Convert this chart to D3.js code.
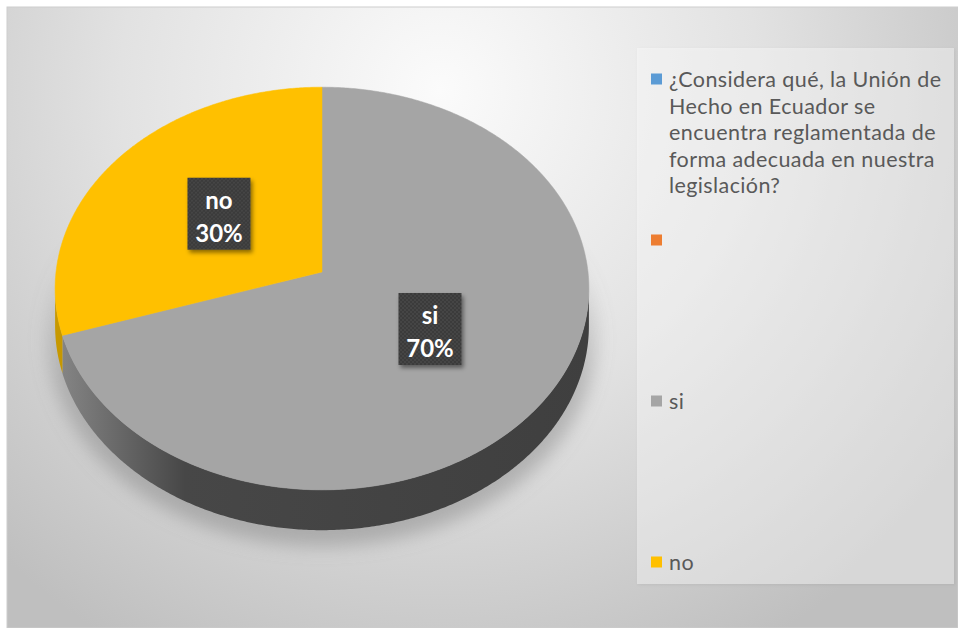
<!DOCTYPE html>
<html><head><meta charset="utf-8">
<script src="https://cdn.jsdelivr.net/npm/d3@7"></script>
<style>html,body{margin:0;padding:0;background:#fff;}svg{display:block}</style>
</head><body>
<svg id="chart" width="958" height="628"></svg>
<script>
// Survey answers
const categories = ["si", "no"];
const values = [70, 30];
const sliceColors = ["#a5a5a5", "#ffc000"];
const sideColors = [["#8a8a8a", "#474747", "#3f3f3f"], ["#c99a00", "#a67c00", "#a67c00"]];

// Legend entries (the first one is the question; the second has no label)
const legendLabels = [
  "¿Considera qué, la Unión de\nHecho en Ecuador se\nencuentra reglamentada de\nforma adecuada en nuestra\nlegislación?",
  "",
  "si",
  "no"
];
const legendColors = ["#5b9bd5", "#ed7d31", "#a5a5a5", "#ffc000"];

const W = 958, H = 628;
const svg = d3.select("#chart");
const defs = svg.append("defs");

// ---- background ----
const bg = defs.append("radialGradient").attr("id", "bgGrad")
  .attr("gradientUnits", "userSpaceOnUse").attr("cx", 440).attr("cy", 90).attr("r", 640);
bg.append("stop").attr("offset", 0).attr("stop-color", "#fbfbfb");
bg.append("stop").attr("offset", 0.5).attr("stop-color", "#e2e2e2");
bg.append("stop").attr("offset", 1).attr("stop-color", "#bfbfbf");
svg.append("rect").attr("x", 7).attr("y", 7).attr("width", W - 7).attr("height", H - 7)
  .attr("fill", "url(#bgGrad)").attr("stroke", "#cdcdcd").attr("stroke-width", 1);

// ---- 3D pie geometry (perspective-tilted disk) ----
const cx = 322, cy = 272, RX = 266, RY = 200, persp = 0.082, depth = 37;
function proj(theta, r, drop) {
  const u = r * Math.sin(theta), v = -r * Math.cos(theta);
  const k = 1 / (1 - persp * v);
  return [cx + RX * u * k, cy + RY * v * k + drop * k];
}
const pie = d3.pie().sort(null).value(d => d)(values);
const visLo = Math.acos(-persp), visHi = 2 * Math.PI - Math.acos(-persp);
const line = d3.line();

function arcPts(a0, a1, r, drop) {
  const n = Math.max(2, Math.ceil(Math.abs(a1 - a0) / (Math.PI / 360)));
  return d3.range(n + 1).map(i => proj(a0 + (a1 - a0) * i / n, r, drop));
}

// soft shadow below the disk
const shGrad = defs.append("linearGradient").attr("id", "shGrad")
  .attr("gradientUnits", "userSpaceOnUse").attr("x1", 0).attr("y1", 240).attr("x2", 0).attr("y2", 560);
shGrad.append("stop").attr("offset", 0).attr("stop-color", "#808080").attr("stop-opacity", 0);
shGrad.append("stop").attr("offset", 0.45).attr("stop-color", "#808080").attr("stop-opacity", 0.45);
shGrad.append("stop").attr("offset", 1).attr("stop-color", "#8a8a8a").attr("stop-opacity", 0.55);
defs.append("filter").attr("id", "shBlur").attr("x", "-20%").attr("y", "-20%").attr("width", "140%").attr("height", "140%")
  .append("feGaussianBlur").attr("stdDeviation", 9);
svg.append("path")
  .attr("d", line(arcPts(0, 2 * Math.PI, 1.03, depth + 8)) + "Z")
  .attr("fill", "url(#shGrad)").attr("filter", "url(#shBlur)");

// sides
pie.forEach((s, i) => {
  const a0 = Math.max(s.startAngle, visLo), a1 = Math.min(s.endAngle, visHi);
  if (a1 <= a0) return;
  const g = defs.append("linearGradient").attr("id", "side" + i)
    .attr("gradientUnits", "userSpaceOnUse").attr("x1", 50).attr("y1", 0).attr("x2", 590).attr("y2", 0);
  g.append("stop").attr("offset", 0).attr("stop-color", sideColors[i][0]);
  g.append("stop").attr("offset", 0.25).attr("stop-color", sideColors[i][1]);
  g.append("stop").attr("offset", 1).attr("stop-color", sideColors[i][2]);
  const pts = arcPts(a0, a1, 1, 0).concat(arcPts(a1, a0, 1, depth));
  svg.append("path").attr("d", line(pts) + "Z").attr("fill", "url(#side" + i + ")");
});

// top faces
pie.forEach((s, i) => {
  const pts = [proj(0, 0, 0)].concat(arcPts(s.startAngle, s.endAngle, 1, 0));
  svg.append("path").attr("d", line(pts) + "Z")
    .attr("fill", sliceColors[i]).attr("stroke", sliceColors[i]).attr("stroke-width", 0.5);
});

// ---- data labels ----
const dots = defs.append("pattern").attr("id", "dots").attr("patternUnits", "userSpaceOnUse")
  .attr("width", 4).attr("height", 4);
dots.append("rect").attr("width", 4).attr("height", 4).attr("fill", "#3b3b3b");
dots.append("circle").attr("cx", 1).attr("cy", 1).attr("r", 0.8).attr("fill", "#4e4e4e");
dots.append("circle").attr("cx", 3).attr("cy", 3).attr("r", 0.8).attr("fill", "#4e4e4e");
const ds = defs.append("filter").attr("id", "lblShadow").attr("x", "-30%").attr("y", "-30%").attr("width", "160%").attr("height", "160%");
ds.append("feDropShadow").attr("dx", 2).attr("dy", 3).attr("stdDeviation", 2)
  .attr("flood-color", "#000").attr("flood-opacity", 0.45);

const total = d3.sum(values);
pie.forEach((s, i) => {
  const mid = (s.startAngle + s.endAngle) / 2;
  const [lx, ly] = proj(mid, 0.49, 0);
  const g = svg.append("g").attr("transform", `translate(${lx},${ly})`);
  const box = g.append("rect").attr("fill", "url(#dots)").attr("filter", "url(#lblShadow)");
  const t = g.append("text").attr("text-anchor", "middle").attr("fill", "#ffffff")
    .attr("font-family", "Lato, 'Open Sans', sans-serif").attr("font-weight", "bold").attr("font-size", 24);
  t.append("tspan").attr("x", 0).attr("y", -7).text(categories[i]);
  t.append("tspan").attr("x", 0).attr("y", 26).text(Math.round(values[i] / total * 100) + "%");
  const bw = 63, bh = 72;
  box.attr("x", -bw / 2).attr("y", -38).attr("width", bw).attr("height", bh);
});

// ---- legend ----
const lf = defs.append("filter").attr("id", "legShadow").attr("x", "-5%").attr("y", "-5%").attr("width", "110%").attr("height", "110%");
lf.append("feDropShadow").attr("dx", 1).attr("dy", 1).attr("stdDeviation", 1.5)
  .attr("flood-color", "#000").attr("flood-opacity", 0.15);
svg.append("rect").attr("x", 637).attr("y", 48).attr("width", 317).attr("height", 536)
  .attr("fill", "#ffffff").attr("fill-opacity", 0.4).attr("filter", "url(#legShadow)");

const rowY = d3.scalePoint().domain(d3.range(legendLabels.length)).range([79, 562]);
legendLabels.forEach((lab, i) => {
  const y = rowY(i);
  svg.append("rect").attr("x", 651).attr("y", y - 5.5).attr("width", 11).attr("height", 11)
    .attr("fill", legendColors[i]);
  const t = svg.append("text").attr("fill", "#595959")
    .attr("font-family", "Lato, 'Open Sans', sans-serif").attr("font-size", 21.5)
    .attr("letter-spacing", 0.4);
  lab.split("\n").forEach((ln, j) => {
    t.append("tspan").attr("x", 669).attr("y", y + 8 + j * 26.5).text(ln);
  });
});
</script>
</body></html>
